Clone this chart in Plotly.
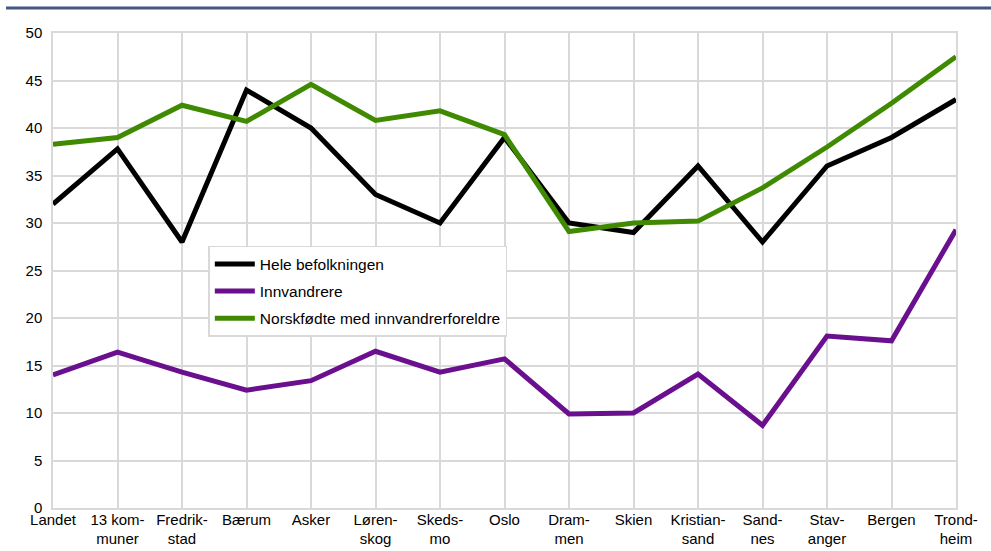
import plotly.graph_objects as go

categories = [
    "Landet", "13 kom-<br>muner", "Fredrik-<br>stad", "Bærum", "Asker",
    "Løren-<br>skog", "Skeds-<br>mo", "Oslo", "Dram-<br>men", "Skien",
    "Kristian-<br>sand", "Sand-<br>nes", "Stav-<br>anger", "Bergen", "Trond-<br>heim",
]
hele = [32.0, 37.8, 28.0, 44.0, 40.0, 33.0, 30.0, 39.0, 30.0, 29.0, 36.0, 28.0, 36.0, 39.0, 43.0]
innvandrere = [14.0, 16.4, 14.3, 12.4, 13.4, 16.5, 14.3, 15.7, 9.9, 10.0, 14.1, 8.7, 18.1, 17.6, 29.3]
norskfodte = [38.3, 39.0, 42.4, 40.7, 44.6, 40.8, 41.8, 39.3, 29.1, 30.0, 30.2, 33.7, 38.0, 42.6, 47.5]
y_ticks = [0, 5, 10, 15, 20, 25, 30, 35, 40, 45, 50]

series = [
    ("Hele befolkningen", hele, "#000000"),
    ("Innvandrere", innvandrere, "#6a0f8e"),
    ("Norskfødte med innvandrerforeldre", norskfodte, "#3f8a00"),
]

fig = go.Figure()
for i, (name, vals, color) in enumerate(series):
    fig.add_trace(
        go.Scatter(
            x=list(range(len(categories))), y=vals,
            mode="lines", name=name, legendgroup=f"g{i}",
            line=dict(color=color, width=5),
        )
    )

# blue rule across the top
fig.add_shape(
    type="line", xref="paper", yref="paper",
    x0=-0.052, x1=1.05, y0=1.0526, y1=1.0526,
    line=dict(color="#44577f", width=3),
)

grid = "#d9d9d9"
fig.update_layout(
    width=991, height=551,
    paper_bgcolor="white", plot_bgcolor="white",
    font=dict(family="Liberation Sans, Arial", size=15, color="#000000"),
    margin=dict(l=53, r=35, t=33, b=43),
    xaxis=dict(
        range=[0, len(categories) - 1],
        tickmode="array",
        tickvals=list(range(len(categories))),
        ticktext=categories,
        showgrid=True, gridcolor=grid, gridwidth=1.5,
        showline=True, linecolor=grid, linewidth=1.5, mirror=True,
        zeroline=False, ticks="", ticklabelstandoff=-3,
        automargin=False,
        tickfont=dict(size=15),
    ),
    yaxis=dict(
        range=[0, 50],
        tickmode="array", tickvals=y_ticks,
        showgrid=True, gridcolor=grid, gridwidth=1.5,
        showline=True, linecolor=grid, linewidth=1.5, mirror=True,
        zeroline=False, ticks="outside", ticklen=6, tickcolor="rgba(0,0,0,0)",
        automargin=False,
        tickfont=dict(size=15),
    ),
    legend=dict(
        x=0.172, y=0.552, xanchor="left", yanchor="top",
        bgcolor="white", bordercolor=grid, borderwidth=1.5,
        font=dict(size=15.5),
        itemwidth=40,
        entrywidth=290,
        traceorder="grouped",
        tracegroupgap=4,
    ),
)

fig.write_html(
    "out.html",
    config={"displayModeBar": False},
    post_script="document.body.style.margin='0';",
)
